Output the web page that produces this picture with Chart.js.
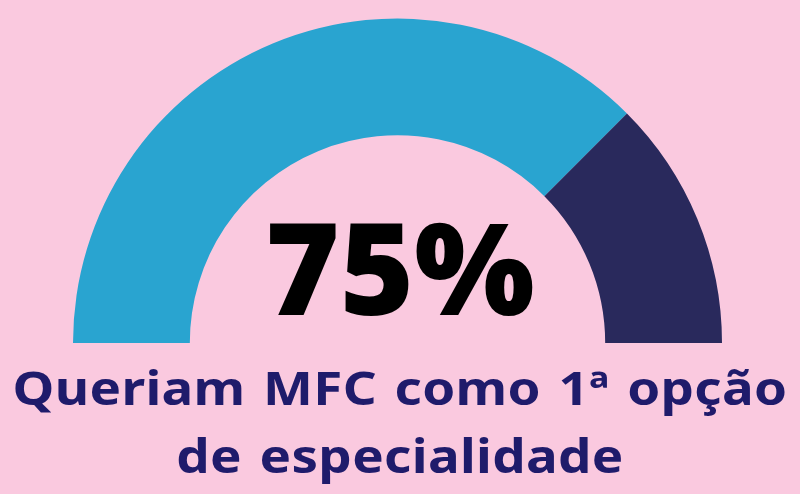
<!DOCTYPE html>
<html lang="pt">
<head>
<meta charset="utf-8">
<title>MFC como 1ª opção</title>
<script src="https://cdn.jsdelivr.net/npm/chart.js@4"></script>
<style>
  html,body{margin:0;padding:0;background:#fac9df;}
  .wrap{position:relative;width:800px;height:494px;overflow:hidden;}
  #gauge{position:absolute;left:0;top:0;}
  .big{position:absolute;left:0;width:800px;top:196px;text-align:center;
       font-family:"Open Sans",sans-serif;font-weight:800;font-size:127px;line-height:140px;color:#000;}
  .sub{position:absolute;left:0;width:800px;top:353px;text-align:center;
       font-family:"Noto Sans",sans-serif;font-weight:700;font-size:46px;line-height:68px;color:#1f1b6b;
       letter-spacing:0.3px;word-spacing:3px;transform:scaleX(1.15);transform-origin:400px 0;}
</style>
</head>
<body>
<div class="wrap">
  <canvas id="gauge" width="800" height="494"></canvas>
  <div class="big" id="big-value"></div>
  <div class="sub">Queriam MFC como 1ª opção<br>de especialidade</div>
</div>
<script>
/* ── DATA ───────────────────────────────────────────────── */
const labels = ['Queriam MFC como 1ª opção', 'Outra opção'];
const values = [75, 25];
const colors = ['#29a4d0', '#29295c'];

/* ── GAUGE ──────────────────────────────────────────────── */
document.getElementById('big-value').textContent = values[0] + '%';

new Chart(document.getElementById('gauge'), {
  type:'doughnut',
  data:{
    labels,
    datasets:[{ data:values, backgroundColor:colors, borderWidth:0, hoverOffset:0 }]
  },
  options:{
    responsive:false, animation:false,
    rotation:-90, circumference:180, cutout:'64%',
    layout:{ padding:{ left:73, right:78, top:18.5, bottom:151 } },
    plugins:{ legend:{display:false}, tooltip:{enabled:false} }
  }
});
</script>
</body>
</html>
